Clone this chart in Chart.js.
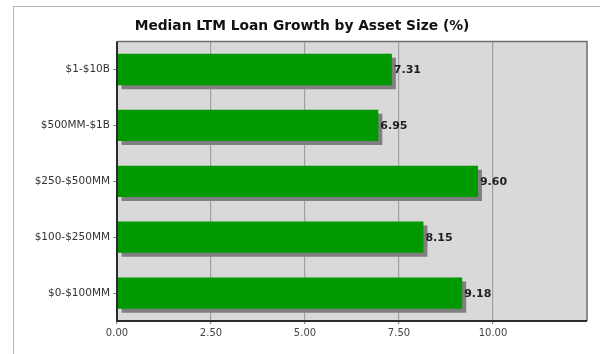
<!DOCTYPE html>
<html>
<head>
<meta charset="utf-8">
<script src="https://cdn.jsdelivr.net/npm/chart.js@4/dist/chart.umd.min.js"></script>
<style>
  html, body { margin: 0; padding: 0; background: #fff; overflow: hidden; }
  #wrap { position: relative; width: 600px; height: 354px; }
  #frame { position: absolute; left: 13px; top: 6px; width: 640px; height: 400px; border: 1px solid #b4b4b4; }
  canvas { position: absolute; left: 0; top: 0; }
</style>
</head>
<body>
<div id="wrap">
  <div id="frame"></div>
  <canvas id="loanChart" width="600" height="354"></canvas>
</div>
<script>
// asset size buckets, largest first (top to bottom)
const sizeBuckets = ['$1-$10B', '$500MM-$1B', '$250-$500MM', '$100-$250MM', '$0-$100MM'];
const loanGrowth = [7.31, 6.95, 9.60, 8.15, 9.18];
const xTicks = [0, 2.5, 5, 7.5, 10];
const xMax = 12.5;

// grey plot background
const plotBackground = {
    id: 'plotBackground',
    beforeDraw(chart) {
        const { ctx, chartArea: a } = chart;
        ctx.save();
        ctx.fillStyle = '#d9d9d9';
        ctx.fillRect(a.left, a.top, a.right - a.left, a.bottom - a.top);
        ctx.restore();
    }
};

// drop shadow under bars, then frame + value labels on top
const barShadow = {
    id: 'barShadow',
    beforeDatasetsDraw(chart) {
        const ctx = chart.ctx;
        ctx.save();
        ctx.shadowColor = '#7f7f7f';
        ctx.shadowOffsetX = 4;
        ctx.shadowOffsetY = 4;
        ctx.shadowBlur = 0;
    },
    afterDatasetsDraw(chart) {
        const { ctx, chartArea: a } = chart;
        ctx.restore();

        ctx.save();
        // top/right edge
        ctx.strokeStyle = '#6e6e6e';
        ctx.lineWidth = 1.5;
        ctx.beginPath();
        ctx.moveTo(a.left, a.top);
        ctx.lineTo(a.right, a.top);
        ctx.lineTo(a.right, a.bottom);
        ctx.stroke();
        // axis lines
        ctx.strokeStyle = '#2a2a2a';
        ctx.lineWidth = 2;
        ctx.beginPath();
        ctx.moveTo(a.left, a.top);
        ctx.lineTo(a.left, a.bottom);
        ctx.lineTo(a.right, a.bottom);
        ctx.stroke();

        // value labels
        ctx.font = 'bold 11px "DejaVu Sans"';
        ctx.fillStyle = '#1e1e1e';
        ctx.textAlign = 'left';
        ctx.textBaseline = 'middle';
        const meta = chart.getDatasetMeta(0);
        meta.data.forEach((bar, i) => {
            ctx.fillText(loanGrowth[i].toFixed(2), bar.x + 2, bar.y + 1);
        });
        ctx.restore();
    }
};

new Chart(document.getElementById('loanChart').getContext('2d'), {
    type: 'bar',
    data: {
        labels: sizeBuckets,
        datasets: [{
            data: loanGrowth,
            backgroundColor: '#009900',
            borderWidth: 0,
            barPercentage: 0.56,
            categoryPercentage: 1
        }]
    },
    options: {
        indexAxis: 'y',
        responsive: false,
        animation: false,
        layout: { padding: { left: 17, right: 13, top: 0, bottom: 0 } },
        plugins: {
            legend: { display: false },
            tooltip: { enabled: false },
            title: {
                display: true,
                text: 'Median LTM Loan Growth by Asset Size (%)',
                color: '#111',
                font: { family: 'DejaVu Sans', size: 13.8, weight: 'bold', lineHeight: 1.2 },
                padding: { top: 18, bottom: 7 }
            }
        },
        scales: {
            x: {
                min: 0,
                max: xMax,
                afterBuildTicks(scale) { scale.ticks = xTicks.map(v => ({ value: v })); },
                afterFit(scale) { scale.height = 33; },
                border: { display: false },
                grid: { color: '#a2a2a2', lineWidth: 1.2, tickLength: 3, tickColor: '#888' },
                ticks: {
                    color: '#444',
                    padding: 3,
                    font: { family: 'DejaVu Sans', size: 10 },
                    callback: v => Number(v).toFixed(2)
                }
            },
            y: {
                afterFit(scale) { scale.width = 100; },
                border: { display: false },
                grid: { offset: false, drawOnChartArea: false, tickLength: 4, color: '#888' },
                ticks: {
                    color: '#333',
                    padding: 3,
                    font: { family: 'DejaVu Sans', size: 10.5 }
                }
            }
        }
    },
    plugins: [plotBackground, barShadow]
});
</script>
</body>
</html>
